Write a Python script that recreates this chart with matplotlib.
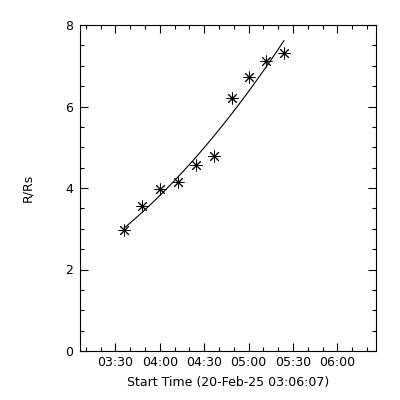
import numpy as np
import matplotlib
matplotlib.use("Agg")
import matplotlib.pyplot as plt
from matplotlib.ticker import MultipleLocator, FixedLocator

# Minutes after start time 03:06:07
t_min = [29.9, 42.2, 54.3, 66.3, 78.2, 90.3, 102.4, 114.2, 125.9, 137.8]
r_rs = [2.97, 3.56, 3.97, 4.14, 4.56, 4.79, 6.20, 6.72, 7.12, 7.32]
tick_labels = ["03:30", "04:00", "04:30", "05:00", "05:30", "06:00"]
start_offset = 23.0 + 53.0 / 60.0  # minutes from 03:06:07 to 03:30

fig = plt.figure(figsize=(4, 4), dpi=100)
ax = fig.add_axes([0.2, 0.1225, 0.74, 0.815])

ax.plot(t_min, r_rs, linestyle="none", marker=(8, 2, 0), markersize=8.5,
        markeredgewidth=0.7, color="black")

coef = np.polyfit(t_min, r_rs, 2)
tf = np.linspace(t_min[0], t_min[-1], 100)
ax.plot(tf, np.polyval(coef, tf), color="black", linewidth=0.8)

ax.set_xlim(0, 200)
ax.set_ylim(0, 8)
major_x = [start_offset + 30 * i for i in range(len(tick_labels))]
ax.xaxis.set_major_locator(FixedLocator(major_x))
ax.set_xticklabels(tick_labels)
minor_x = [m for m in np.arange(start_offset - 20, 200, 10) if m >= 0]
ax.xaxis.set_minor_locator(FixedLocator(minor_x))
ax.yaxis.set_major_locator(MultipleLocator(2))
ax.yaxis.set_minor_locator(MultipleLocator(0.5))

ax.tick_params(which="both", direction="in", top=True, right=True,
               labelsize=9, width=0.8, colors="black")
ax.tick_params(which="major", length=6)
ax.tick_params(which="minor", length=3)
ax.tick_params(axis="y", pad=5)
for s in ax.spines.values():
    s.set_linewidth(0.8)

ax.set_xlabel("Start Time (20-Feb-25 03:06:07)", fontsize=9, labelpad=5)
ax.set_ylabel("R/Rs", fontsize=9, labelpad=22)

fig.savefig("out.png", dpi=100, facecolor="white")
